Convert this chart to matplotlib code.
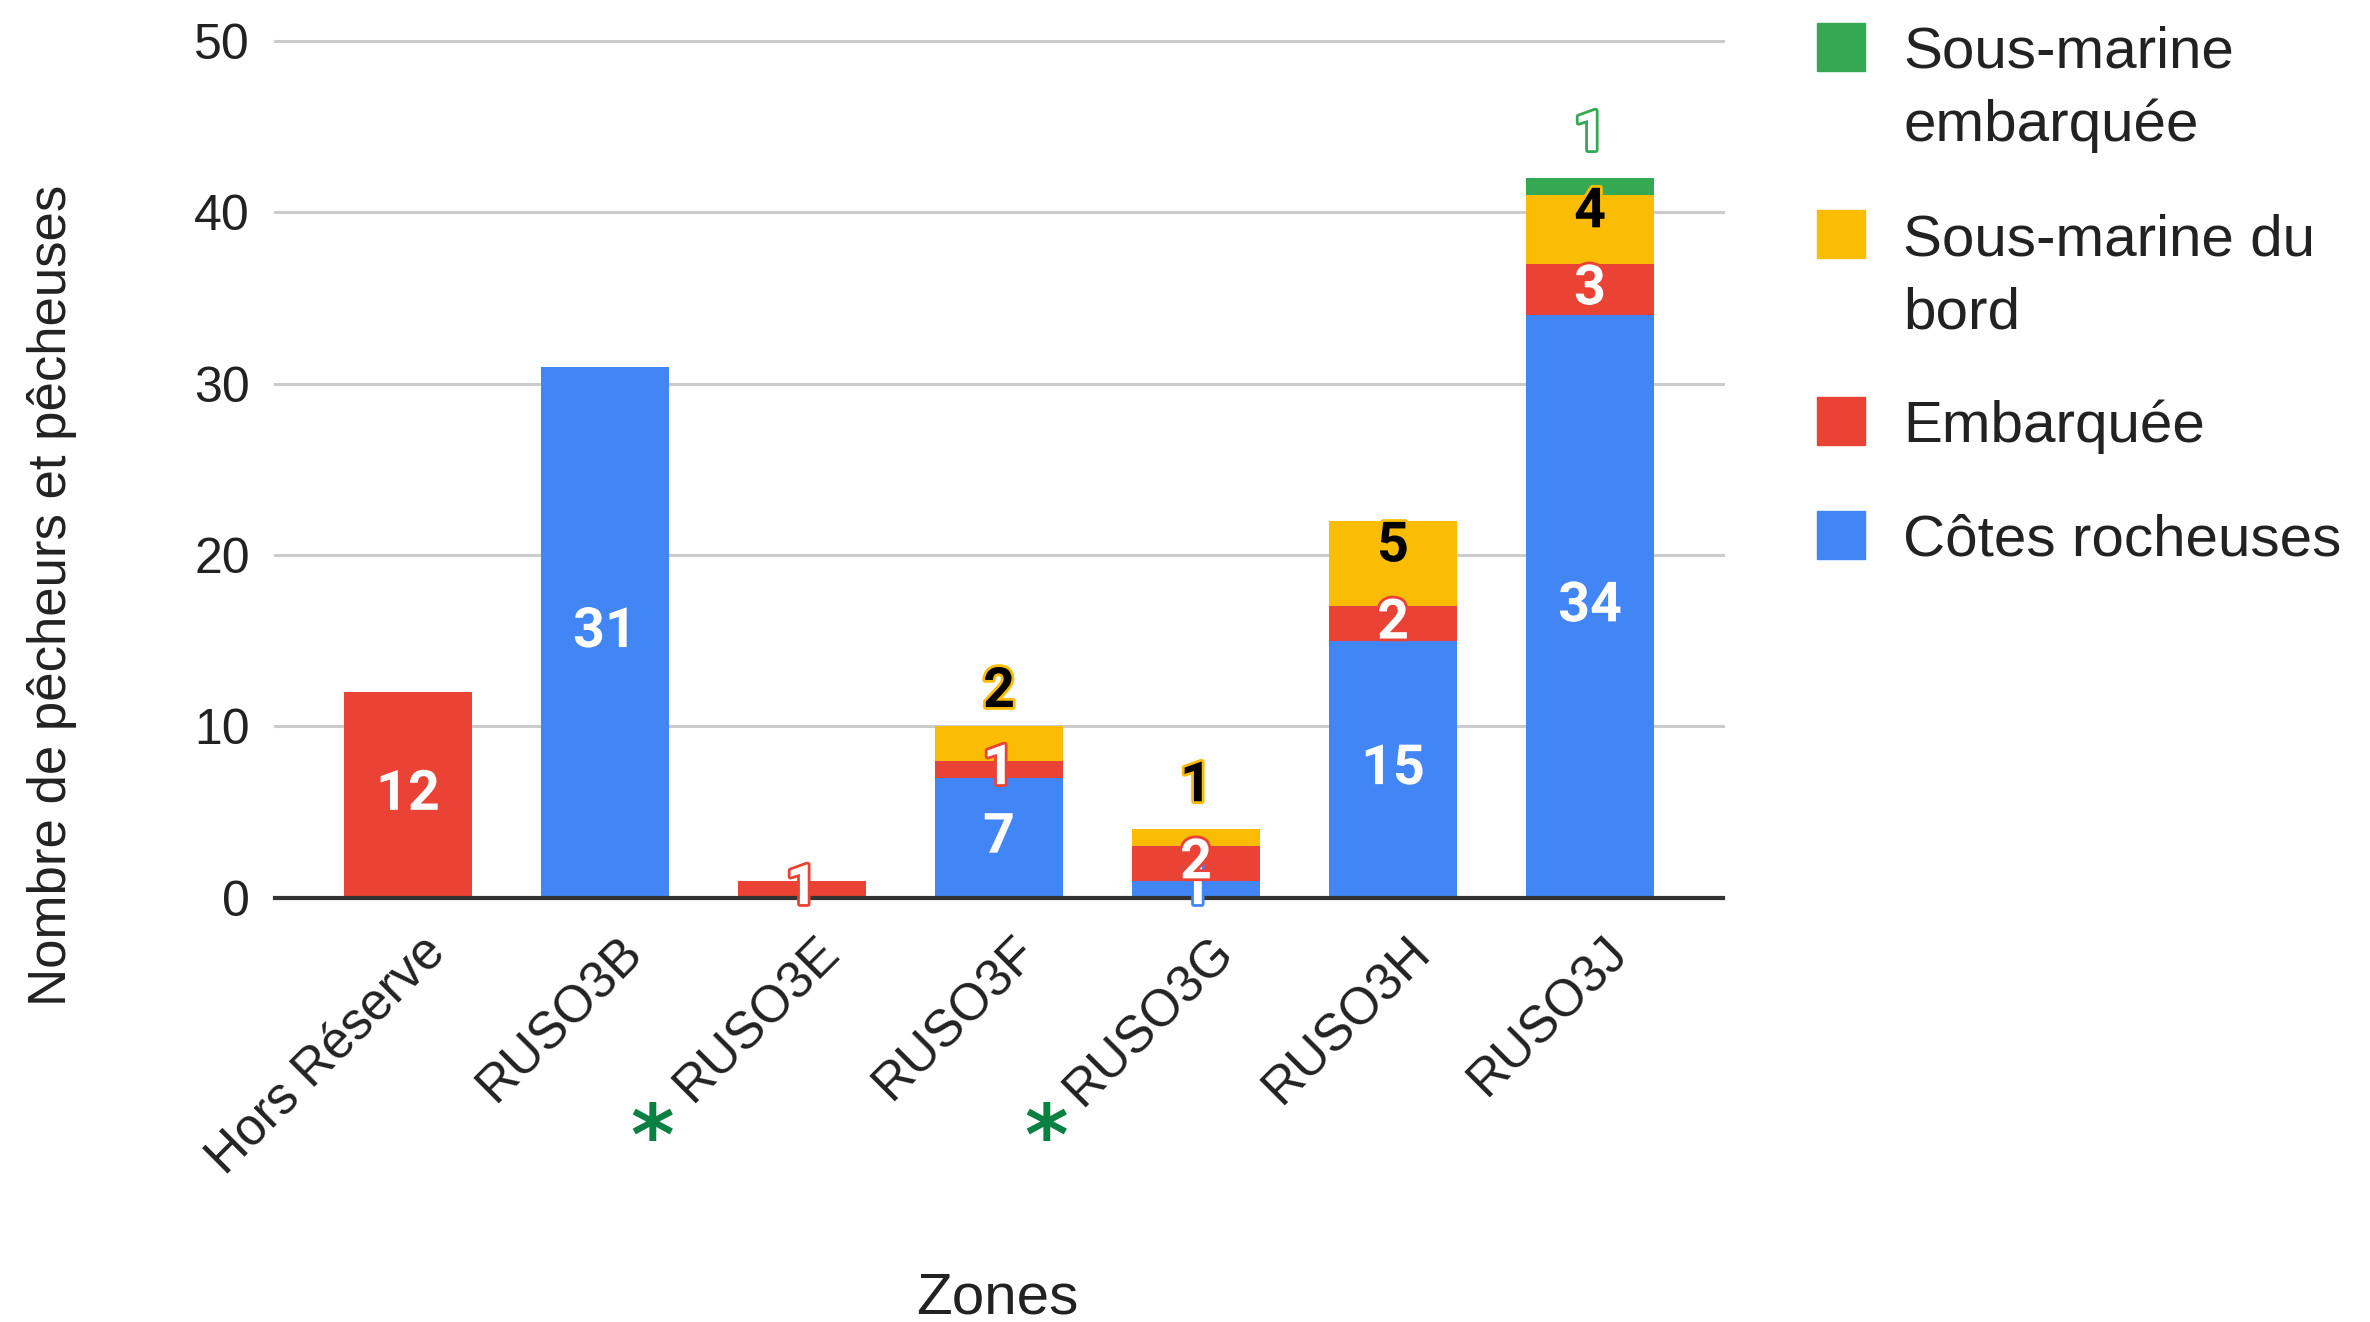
import matplotlib
matplotlib.use('Agg')
from matplotlib import pyplot as plt
from matplotlib import patheffects
from matplotlib.patches import Rectangle
from matplotlib.transforms import ScaledTranslation
import numpy as np

# donnees
zones = ['Hors Réserve', 'RUSO3B', 'RUSO3E', 'RUSO3F', 'RUSO3G', 'RUSO3H', 'RUSO3J']
marquees = [False, False, True, False, True, False, False]

cotes_rocheuses = [0, 31, 0, 7, 1, 15, 34]
embarquee = [12, 0, 1, 1, 2, 2, 3]
sous_marine_bord = [0, 0, 0, 2, 1, 5, 4]
sous_marine_embarquee = [0, 0, 0, 0, 0, 0, 1]

noms = ['Côtes rocheuses', 'Embarquée', 'Sous-marine du\nbord', 'Sous-marine\nembarquée']
couleurs = ['#4285F4', '#EA4335', '#FBBC04', '#34A853']
couleurs_texte = ['white', 'white', 'black', 'white']

plt.rcParams['font.family'] = ['Liberation Sans', 'DejaVu Sans']

W, H = 2370, 1322
fig = plt.figure(figsize=(W / 100, H / 100), dpi=100)
ax = fig.add_axes([0.116, 0.321, 0.611, 0.648])

x = np.arange(len(zones))
series = [cotes_rocheuses, embarquee, sous_marine_bord, sous_marine_embarquee]
bas = np.zeros(len(zones))
dernier_label = np.full(len(zones), -10.0)
for s, vals in enumerate(series):
    vals = np.array(vals, dtype=float)
    ax.bar(x, vals, 0.65, bottom=bas, color=couleurs[s], zorder=2)
    for i in range(len(zones)):
        if vals[i] <= 0:
            continue
        y = bas[i] + vals[i] / 2
        if s >= 2:
            y = max(y, dernier_label[i] + 4.5)
        dernier_label[i] = y
        ax.text(i, y, str(int(vals[i])), ha='center', va='center',
                color=couleurs_texte[s], fontsize=40, fontweight='bold',
                family='Roboto', zorder=5,
                path_effects=[patheffects.withStroke(linewidth=4, foreground=couleurs[s])])
    bas = bas + vals

ax.set_xlim(-0.675, len(zones) - 1 + 0.675)
ax.set_ylim(0, 50)
ax.set_yticks(range(0, 51, 10))
ax.yaxis.grid(True, color='#cccccc', lw=2.2)
for gl in ax.get_ygridlines():
    gl.set_clip_on(False)
ax.set_axisbelow(True)
ax.axhline(0, color='#333333', lw=3, zorder=3, clip_on=False)
for sp in ax.spines.values():
    sp.set_visible(False)

ax.tick_params(axis='y', length=0, pad=18, labelsize=36, labelcolor='#222222')
ax.set_xticks(x)
ax.set_xticklabels(zones, rotation=45, ha='right', va='center',
                   rotation_mode='anchor', fontsize=37, color='#222222')
ax.tick_params(axis='x', length=0, pad=34)
for lbl in ax.get_xticklabels():
    lbl.set_transform(lbl.get_transform() + ScaledTranslation(0.3, 0, fig.dpi_scale_trans))

# asterisques verts
for i, m in enumerate(marquees):
    if m:
        ax.annotate('*', xy=(i, 0), xycoords=('data', 'axes fraction'),
                    xytext=(-108, -175), textcoords='offset points',
                    ha='center', va='center', color='#0B8043',
                    fontsize=60, fontweight='bold', family='DejaVu Sans')

fig.text(0.022, 0.55, 'Nombre de pêcheurs et pêcheuses', rotation=90,
         ha='center', va='center', fontsize=38, color='#222222')
fig.text(0.421, 0.018, 'Zones', ha='center', va='center', fontsize=42, color='#222222')

# legende faite a la main
y = 47
for s in range(len(noms) - 1, -1, -1):
    lignes = noms[s].split('\n')
    fig.add_artist(Rectangle((1817 / W, 1 - (y + 24) / H), 48 / W, 48 / H,
                             transform=fig.transFigure, color=couleurs[s]))
    for l in lignes:
        fig.text(1903 / W, 1 - y / H, l, ha='left', va='center_baseline',
                 fontsize=42, color='#222222')
        y += 73
    y += 41

fig.savefig('out.png', dpi=100, facecolor='white')
